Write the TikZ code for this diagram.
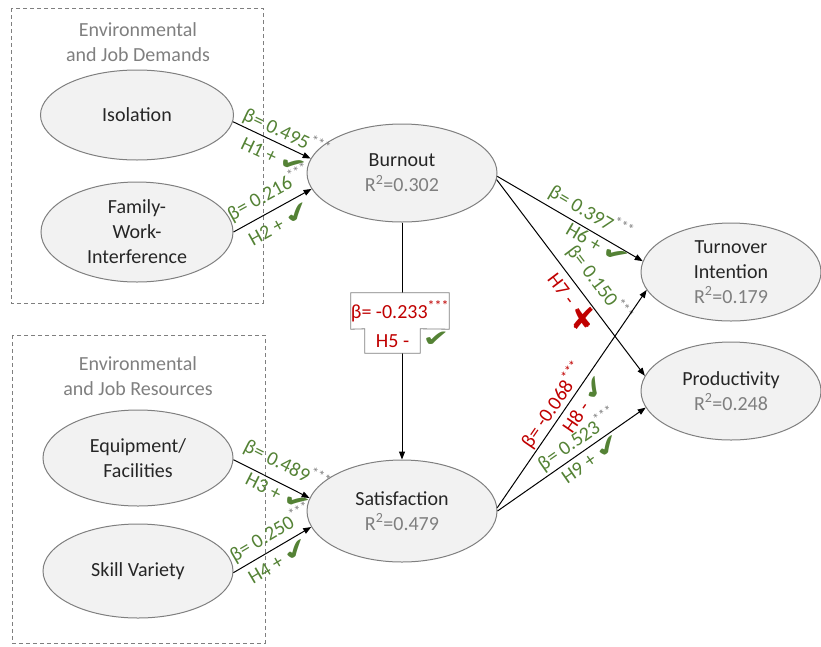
\documentclass[tikz,border=0pt]{standalone}
\usepackage{fontspec}
\usepackage{graphicx}
\setmainfont{Carlito}
\newfontfamily\symfont{DejaVu Sans}
\usetikzlibrary{shapes.geometric,arrows.meta}
\definecolor{okg}{HTML}{548235}
\definecolor{bad}{HTML}{C00000}
\definecolor{mgray}{HTML}{7F7F7F}
\definecolor{efill}{HTML}{F2F2F2}
\definecolor{etext}{HTML}{262626}
\newcommand\mychk{{\symfont\color{okg}\scalebox{1.6}[1.15]{\char"2714}}}
\newcommand\myx{{\symfont\color{bad}\fontsize{30}{30}\selectfont\char"2718}}
\newcommand\strs[1][mgray]{\textsuperscript{\color{#1}***}}
\begin{document}
\begin{tikzpicture}[x=1pt,y=-1pt,
  every node/.style={font=\fontsize{20}{25}\selectfont},
  latent/.style={ellipse, draw=mgray, line width=1pt, fill=efill, inner sep=0pt, text=etext, align=center},
  grp/.style={draw=mgray, line width=1pt, dash pattern=on 4pt off 3pt},
  grptitle/.style={text=mgray, anchor=base, inner sep=0pt},
  conn/.style={draw=black, line width=1pt, -{Triangle[length=8pt,width=6pt]}},
  coef/.style={sloped, text=okg, inner sep=0pt, text height=14pt, text depth=4pt},
  boxpart/.style={fill=white, inner sep=0pt, text=bad},
]
\useasboundingbox (0,0) rectangle (821,646);

% group frames
\draw[grp] (11,8) rectangle (263,303);
\draw[grp] (12,335) rectangle (265,643);
\node[grptitle] (t1a) at (138,36) {Environmental};
\node[grptitle] (t1b) at (138,61) {and Job Demands};
\node[grptitle] (t2a) at (138,370) {Environmental};
\node[grptitle] (t2b) at (138,395) {and Job Resources};

% constructs
\node[latent, minimum width=193pt, minimum height=90pt] (iso) at (137,115) {Isolation};
\node[latent, minimum width=192pt, minimum height=100pt] (fam) at (137,232) {Family-\\Work-\\Interference};
\node[latent, minimum width=190pt, minimum height=96pt] (equ) at (138,458) {Equipment/\\Facilities};
\node[latent, minimum width=190pt, minimum height=94pt] (skv) at (138,571) {Skill Variety};
\node[latent, minimum width=190pt, minimum height=98pt] (bur) at (402,173) {Burnout\\\textcolor{mgray}{R\textsuperscript{2}=0.302}};
\node[latent, minimum width=190pt, minimum height=102pt] (sat) at (402,511) {Satisfaction\\\textcolor{mgray}{R\textsuperscript{2}=0.479}};
\node[latent, minimum width=180pt, minimum height=98pt] (tur) at (731,272) {Turnover\\Intention\\\textcolor{mgray}{R\textsuperscript{2}=0.179}};
\node[latent, minimum width=180pt, minimum height=98pt] (pro) at (731,391) {Productivity\\\textcolor{mgray}{R\textsuperscript{2}=0.248}};

% paths
\draw[conn] (iso.-4) -- node[coef,pos=0.62,above=1.3pt]{β= 0.495\strs} node[coef,pos=0.6,below=6.5pt]{H1 + \mychk} (bur.171);
\draw[conn] (fam.0) -- node[coef,pos=0.56,above=5.8pt]{β= 0.216\strs} node[coef,pos=0.5,below=7.4pt]{H2 + \mychk} (bur.190);
\draw[conn] (equ.-1) -- node[coef,pos=0.59,above=7.6pt]{β= 0.489\strs} node[coef,pos=0.64,below=2.3pt]{H3 + \mychk} (sat.172);
\draw[conn] (skv.-1) -- node[coef,pos=0.58,above=3.9pt]{β= 0.250\strs} node[coef,pos=0.5,below=5.7pt]{H4 + \mychk} (sat.190);
\draw[conn] (bur.-2) -- node[coef,pos=0.59,above=4pt]{β= 0.397\strs} node[coef,pos=0.72,below=1pt]{H6 + \mychk} (tur.173);
\draw[conn] (bur.-4) -- node[coef,pos=0.59,above=7.8pt]{β= 0.150\strs} node[coef,pos=0.515,below=6pt,text=bad]{H7 -} node[pos=0.665,xshift=-11.8pt,yshift=-8.7pt,inner sep=0pt]{\myx} (pro.170);
\draw[conn] (sat.2) -- node[coef,pos=0.44,above=0.9pt,text=bad]{β= -0.068\strs[bad]} node[coef,pos=0.51,below=6pt,text=bad]{H8 - \mychk} (tur.192);
\draw[conn] (sat.0) -- node[coef,pos=0.59,above=2pt]{β= 0.523\strs} node[coef,pos=0.59,below=3.6pt]{H9 + \mychk} (pro.191);

% Burnout -> Satisfaction with boxed label
\draw[conn] (bur.south) -- (sat.north);
\node[boxpart, minimum width=98pt, minimum height=36pt] (b5) at (400,311) {β= -0.233\strs[bad]};
\node[boxpart, minimum width=55pt, minimum height=24pt] (h5) at (392.5,341) {H5 -};
\draw[mgray, line width=0.8pt] (b5.north west) -- (b5.north east) -- (b5.south east) -- (h5.north east) -- (h5.south east) -- (h5.south west) -- (h5.north west) -- (b5.south west) -- cycle;
\node[inner sep=0pt] (c5) at (436,339) {\mychk};
\end{tikzpicture}
\end{document}
